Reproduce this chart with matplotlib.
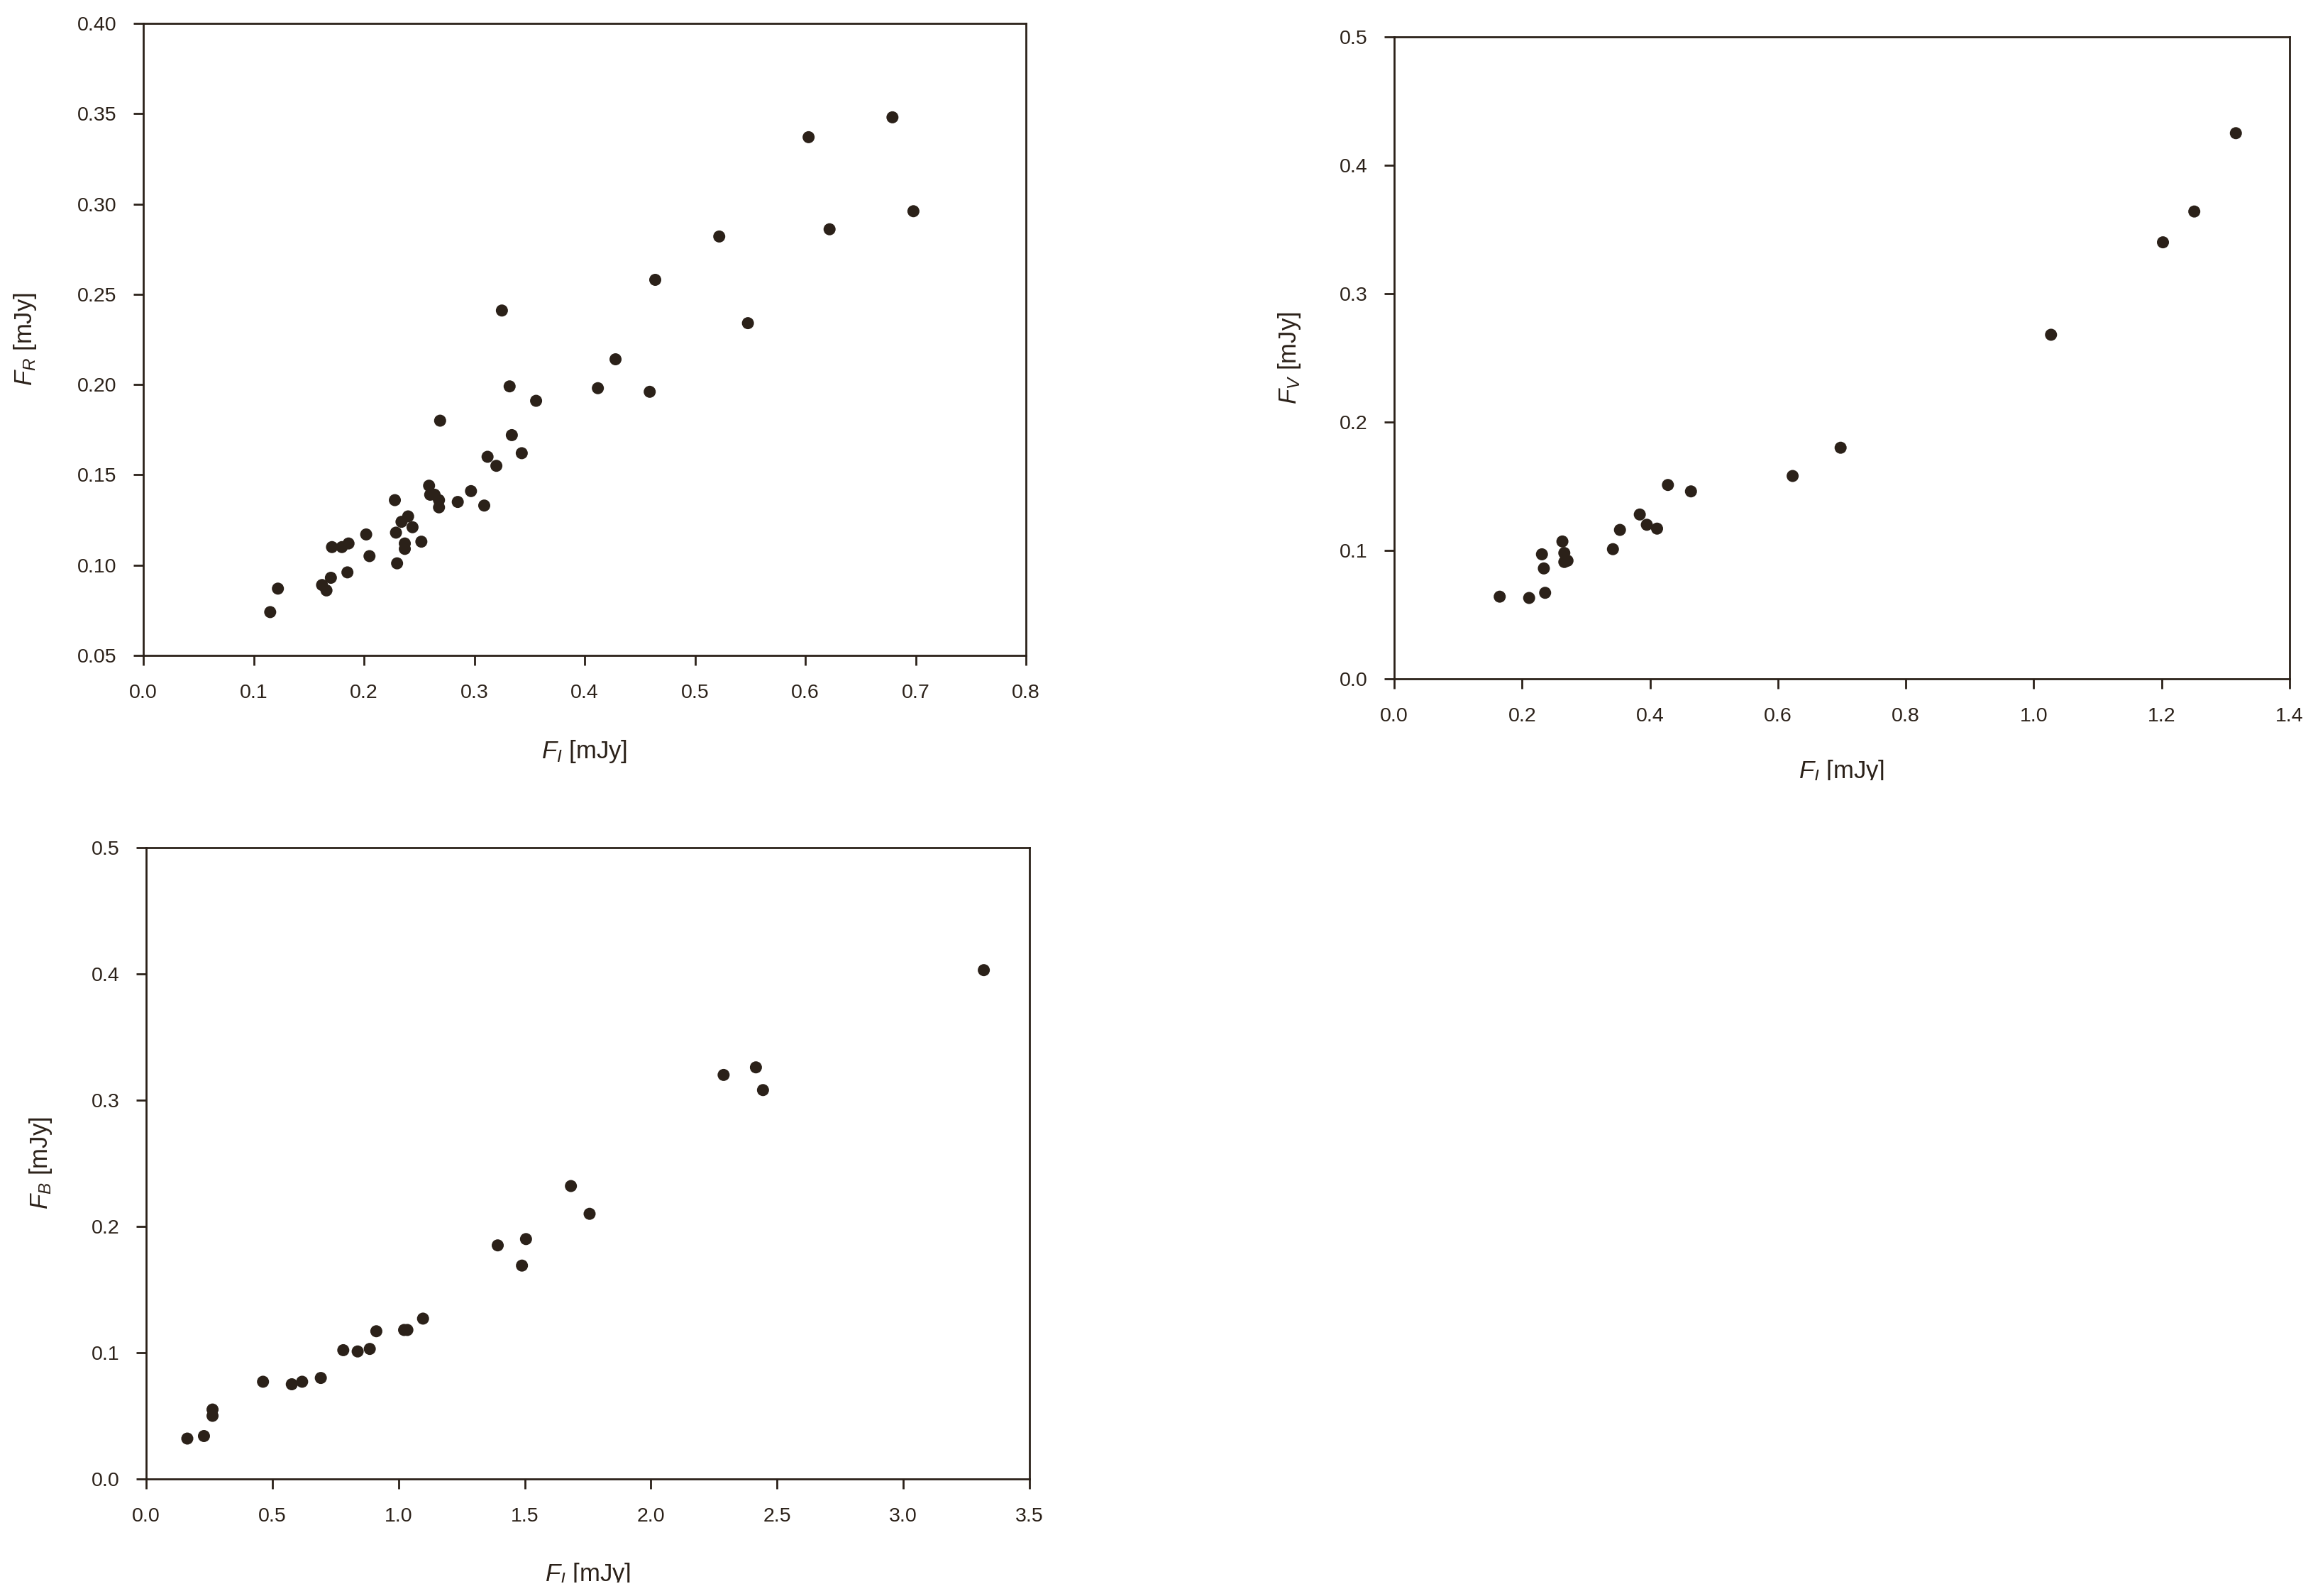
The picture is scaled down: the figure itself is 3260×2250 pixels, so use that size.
import numpy as np
import matplotlib
matplotlib.use("Agg")
import matplotlib.pyplot as plt
from matplotlib.transforms import Bbox, TransformedBbox

# ---------------- data ----------------
# Panel 1: F_R vs F_I
fi_1 = [0.115, 0.122, 0.162, 0.166, 0.170, 0.171, 0.180, 0.186, 0.185, 0.202,
        0.205, 0.228, 0.230, 0.229, 0.234, 0.240, 0.244, 0.237, 0.237, 0.252,
        0.259, 0.260, 0.264, 0.268, 0.268, 0.269, 0.285, 0.297, 0.309, 0.312,
        0.320, 0.325, 0.332, 0.334, 0.343, 0.356, 0.412, 0.428, 0.459, 0.464,
        0.522, 0.548, 0.603, 0.622, 0.679, 0.698]
fr_1 = [0.074, 0.087, 0.089, 0.086, 0.093, 0.110, 0.110, 0.112, 0.096, 0.117,
        0.105, 0.136, 0.101, 0.118, 0.124, 0.127, 0.121, 0.112, 0.109, 0.113,
        0.144, 0.139, 0.139, 0.136, 0.132, 0.180, 0.135, 0.141, 0.133, 0.160,
        0.155, 0.241, 0.199, 0.172, 0.162, 0.191, 0.198, 0.214, 0.196, 0.258,
        0.282, 0.234, 0.337, 0.286, 0.348, 0.296]

# Panel 2: F_V vs F_I
fi_2 = [0.165, 0.211, 0.236, 0.231, 0.234, 0.263, 0.266, 0.266, 0.271, 0.342,
        0.353, 0.384, 0.395, 0.411, 0.428, 0.464, 0.623, 0.698, 1.027, 1.202,
        1.251, 1.316]
fv_2 = [0.064, 0.063, 0.067, 0.097, 0.086, 0.107, 0.098, 0.091, 0.092, 0.101,
        0.116, 0.128, 0.120, 0.117, 0.151, 0.146, 0.158, 0.180, 0.268, 0.340,
        0.364, 0.425]

# Panel 3: F_B vs F_I
fi_3 = [0.163, 0.229, 0.263, 0.263, 0.463, 0.577, 0.618, 0.692, 0.781, 0.838,
        0.886, 0.912, 1.022, 1.035, 1.097, 1.393, 1.489, 1.505, 1.683, 1.757,
        2.288, 2.416, 2.444, 3.319]
fb_3 = [0.032, 0.034, 0.055, 0.050, 0.077, 0.075, 0.077, 0.080, 0.102, 0.101,
        0.103, 0.117, 0.118, 0.118, 0.127, 0.185, 0.169, 0.190, 0.232, 0.210,
        0.320, 0.326, 0.308, 0.403]

x_ticks_1 = [0.0, 0.1, 0.2, 0.3, 0.4, 0.5, 0.6, 0.7, 0.8]
y_ticks_1 = [0.05, 0.10, 0.15, 0.20, 0.25, 0.30, 0.35, 0.40]
x_ticks_2 = [0.0, 0.2, 0.4, 0.6, 0.8, 1.0, 1.2, 1.4]
y_ticks_2 = [0.0, 0.1, 0.2, 0.3, 0.4, 0.5]
x_ticks_3 = [0.0, 0.5, 1.0, 1.5, 2.0, 2.5, 3.0, 3.5]
y_ticks_3 = [0.0, 0.1, 0.2, 0.3, 0.4, 0.5]

# ---------------- style ----------------
INK = "#2b2119"
plt.rcParams["font.family"] = ["Liberation Sans", "DejaVu Sans"]
plt.rcParams["mathtext.fontset"] = "custom"
plt.rcParams["mathtext.it"] = "Liberation Sans:italic"
plt.rcParams["mathtext.rm"] = "Liberation Sans"
plt.rcParams["mathtext.bf"] = "Liberation Sans:bold"

W, H = 3260, 2250
fig = plt.figure(figsize=(W / 100, H / 100), dpi=100)


def px_axes(left, top, right, bottom):
    return fig.add_axes([left / W, 1 - bottom / H, (right - left) / W, (bottom - top) / H])


def style(ax, xt, yt, xfmt, yfmt, xlim, ylim):
    ax.set_xlim(*xlim)
    ax.set_ylim(*ylim)
    ax.set_xticks(xt)
    ax.set_yticks(yt)
    ax.set_xticklabels([xfmt % v for v in xt])
    ax.set_yticklabels([yfmt % v for v in yt])
    for s in ax.spines.values():
        s.set_color(INK)
        s.set_linewidth(2.0)
    ax.tick_params(direction="out", length=10, width=2.0, color=INK,
                   labelcolor=INK, labelsize=20.5, pad=17)
    ax.tick_params(axis="x", pad=19)


def labels(ax, xl, yl, xcoord, ycoord, clip_top_px=None):
    ax.set_xlabel(xl, fontsize=25, color=INK)
    ax.set_ylabel(yl, fontsize=25, color=INK)
    ax.xaxis.set_label_coords(0.5, xcoord)
    ax.xaxis.label.set_va("center")
    ax.yaxis.set_label_coords(ycoord, 0.5)
    ax.yaxis.label.set_va("center")
    if clip_top_px is not None:
        # keep only the part of the label above the cut line (as in the source image)
        bb = TransformedBbox(Bbox([[0, 1 - clip_top_px / H], [1, 1]]), fig.transFigure)
        ax.xaxis.label.set_clip_box(bb)
        ax.xaxis.label.set_clip_on(True)


# Panel 1
ax1 = px_axes(202, 33, 1446, 924)
ax1.scatter(fi_1, fr_1, s=150, color=INK, edgecolors="none", zorder=3, clip_on=False)
style(ax1, x_ticks_1, y_ticks_1, "%.1f", "%.2f", (0, 0.8), (0.05, 0.40))
labels(ax1, "$F_I$ [mJy]", "$F_R$ [mJy]", -0.152, -0.134)

# Panel 2
ax2 = px_axes(1965, 52, 3227, 957)
ax2.scatter(fi_2, fv_2, s=150, color=INK, edgecolors="none", zorder=3, clip_on=False)
style(ax2, x_ticks_2, y_ticks_2, "%.1f", "%.1f", (0, 1.4), (0, 0.5))
labels(ax2, "$F_I$ [mJy]", "$F_V$ [mJy]", -0.144, -0.117, clip_top_px=1100)

# Panel 3
ax3 = px_axes(206, 1195, 1451, 2085)
ax3.scatter(fi_3, fb_3, s=150, color=INK, edgecolors="none", zorder=3, clip_on=False)
style(ax3, x_ticks_3, y_ticks_3, "%.1f", "%.1f", (0, 3.5), (0, 0.5))
labels(ax3, "$F_I$ [mJy]", "$F_B$ [mJy]", -0.151, -0.119, clip_top_px=2231)

fig.savefig("out.png", dpi=100, facecolor="white")
